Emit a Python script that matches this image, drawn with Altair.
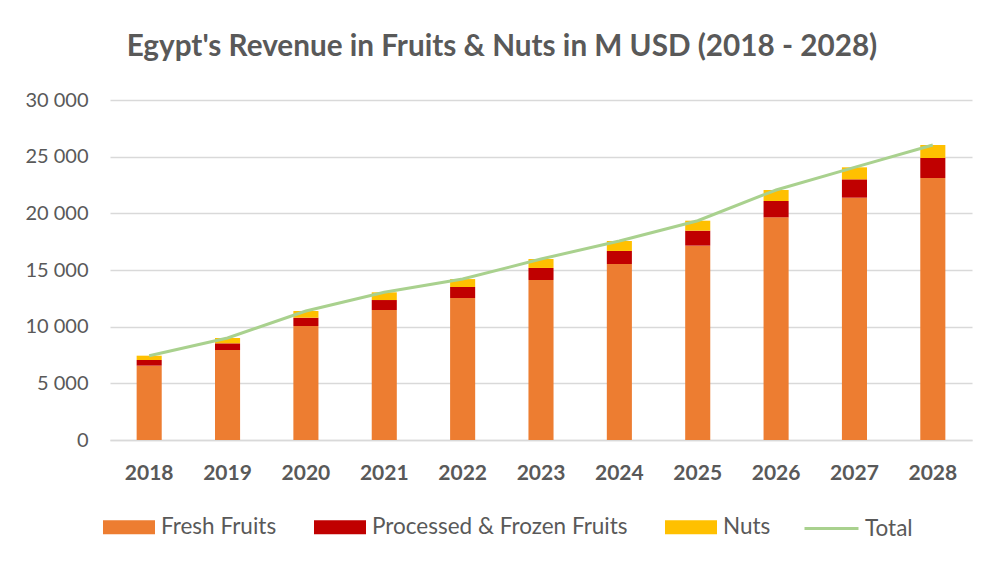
import altair as alt
import pandas as pd

years = ["2018", "2019", "2020", "2021", "2022", "2023", "2024", "2025", "2026", "2027", "2028"]
fresh = [6560, 7940, 10060, 11470, 12530, 14120, 15530, 17150, 19650, 21380, 23120]
processed = [500, 590, 730, 880, 970, 1060, 1150, 1320, 1440, 1620, 1760]
nuts = [380, 470, 590, 680, 700, 790, 880, 880, 970, 1060, 1150]
series_names = ["Fresh Fruits", "Processed & Frozen Fruits", "Nuts"]
series_colors = ["#ED7D31", "#C00000", "#FFC000"]
total_name = "Total"
total_color = "#A9D18E"
title_text = "Egypt's Revenue in Fruits & Nuts in M USD (2018 - 2028)"

rows = []
for i, y in enumerate(years):
    for k, (name, vals) in enumerate(zip(series_names, [fresh, processed, nuts])):
        rows.append({"year": y, "series": name, "value": vals[i], "order": k})
bars_df = pd.DataFrame(rows)
total_df = pd.DataFrame({
    "year": years,
    "series": [total_name] * len(years),
    "total": [f + p + n for f, p, n in zip(fresh, processed, nuts)],
})

FONT = "Lato"
TXT = "#595959"

x_enc = alt.X(
    "year:N",
    title=None,
    sort=years,
    scale=alt.Scale(paddingInner=0.68, paddingOuter=0.34),
    axis=alt.Axis(labelAngle=0, labelFontWeight="bold", labelFontSize=21,
                  labelColor=TXT, labelFont=FONT, ticks=False, labelPadding=22,
                  domainColor="#D9D9D9", domainWidth=1.5, grid=False),
)

bars = alt.Chart(bars_df).mark_bar().encode(
    x=x_enc,
    y=alt.Y("value:Q", stack="zero", title=None,
            scale=alt.Scale(domain=[0, 30000], nice=False),
            axis=alt.Axis(values=list(range(0, 30001, 5000)), labelFontSize=20,
                          labelColor=TXT, labelFont=FONT, ticks=False, domain=False,
                          labelPadding=22, gridColor="#D9D9D9", gridWidth=1.3,
                          labelExpr="replace(format(datum.value, ','), ',', ' ')")),
    fill=alt.Fill("series:N", scale=alt.Scale(domain=series_names, range=series_colors),
                  legend=alt.Legend(title=None, orient="none", direction="horizontal",
                                    legendX=-7, legendY=401, columns=3,
                                    symbolType="M-1,-0.27L1,-0.27L1,0.27L-1,0.27Z",
                                    symbolSize=2704, symbolStrokeWidth=0,
                                    labelFontSize=22.5, labelFont=FONT, labelColor=TXT,
                                    labelLimit=400, labelOffset=6, columnPadding=37)),
    order=alt.Order("order:Q"),
)

line = alt.Chart(total_df).mark_line(strokeWidth=3).encode(
    x=alt.X("year:N", sort=years),
    y=alt.Y("total:Q"),
    stroke=alt.Stroke("series:N", scale=alt.Scale(domain=[total_name], range=[total_color]),
                      legend=alt.Legend(title=None, orient="none", legendX=693, legendY=400,
                                        symbolType="stroke", symbolSize=2916,
                                        symbolStrokeWidth=3, labelFontSize=22.5,
                                        labelFont=FONT, labelColor=TXT, labelOffset=5)),
)

chart = alt.layer(bars, line).properties(
    width=862,
    height=340,
    title=alt.TitleParams(title_text, font=FONT, fontSize=29.7, fontWeight="bold",
                          color=TXT, anchor="middle", frame="group", dx=-39, offset=27),
    autosize=alt.AutoSizeParams(type="none"),
    padding={"left": 102, "top": 92, "right": 13, "bottom": 115},
).configure(background="white").configure_view(stroke=None)

chart.save("out.html", embed_options={"renderer": "svg", "actions": False})
